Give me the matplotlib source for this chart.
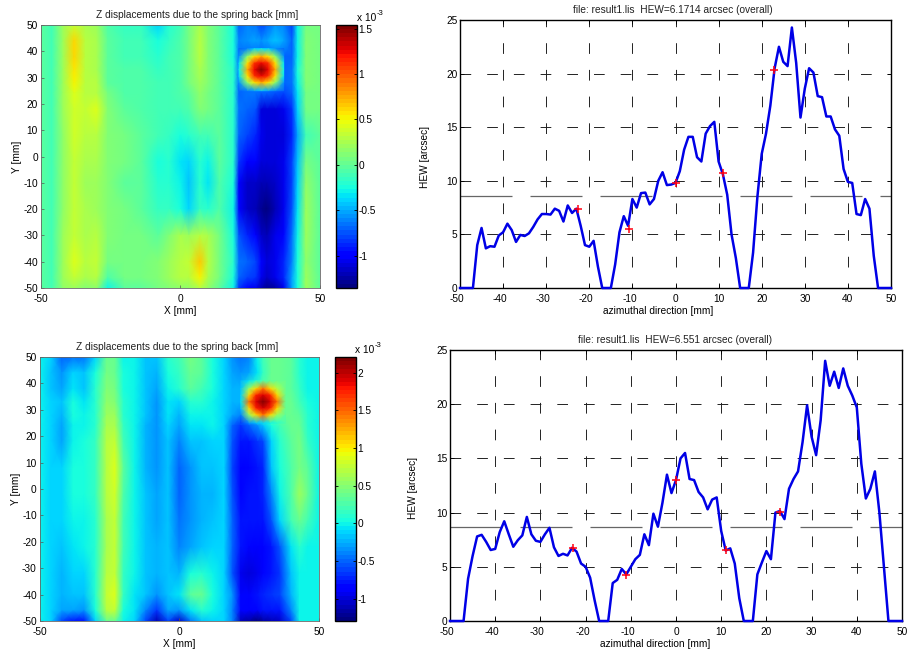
import numpy as np
import matplotlib
matplotlib.use("Agg")
import matplotlib.pyplot as plt
from matplotlib.transforms import ScaledTranslation

plt.rcParams["font.family"] = ["Liberation Sans", "DejaVu Sans"]
plt.rcParams["lines.scale_dashes"] = False
plt.rcParams["axes.unicode_minus"] = False

W, H = 908, 651

# top heat map, values in units of 1e-3 mm
map1_x = [-50, -46, -42, -38, -34, -30, -26, -20, -14, -8, -4, 0, 3, 7, 10, 14, 19, 21, 24, 27, 29, 31, 34, 37, 40, 42, 45, 50]
map1_y = [50, 44, 38, 33, 28, 24, 18, 8, -2, -10, -20, -30, -40, -46, -50]
map1_z = [
    [0, -.1, .2, .35, .25, .2, -.05, -.15, -.15, -.4, -.2, -.1, .05, .25, .1, 0, -.25, -.7, -.6, -.65, -.8, -.7, -.55, -.6, -.8, -.3, .05, .05],
    [0, -.1, .2, .6, .3, .25, 0, -.1, -.1, -.25, -.15, -.05, .05, .3, .1, 0, -.25, -.6, -.55, -.5, -.55, -.5, -.45, -.5, -.7, -.3, .1, .05],
    [0, -.1, .2, .6, .3, .25, 0, -.1, -.1, -.2, -.1, -.05, .05, .3, .1, 0, -.25, -.65, -.7, -.7, -.7, -.7, -.7, -.7, -.7, -.3, .1, .05],
    [0, -.1, .2, .55, .3, .25, 0, -.05, -.05, -.15, -.1, -.05, .05, .25, .1, 0, -.2, -.6, -.7, -.7, -.7, -.7, -.7, -.7, -.65, -.25, .1, .05],
    [0, -.1, .2, .5, .3, .3, 0, -.05, -.05, -.1, -.1, -.05, .05, .2, .1, 0, -.2, -.65, -.7, -.7, -.7, -.7, -.7, -.7, -.65, -.3, .1, .05],
    [0, -.1, .2, .45, .3, .3, .05, -.05, -.05, -.1, -.1, -.05, 0, .15, .05, 0, -.2, -.7, -.65, -.65, -.7, -.7, -.75, -.8, -.7, -.35, .05, .05],
    [0, -.1, .2, .4, .35, .42, .1, 0, -.05, -.1, -.1, -.1, -.05, .1, .05, 0, -.2, -.65, -.7, -.75, -1.1, -1.1, -1.1, -1.05, -.85, -.4, .05, .05],
    [0, -.1, .15, .4, .3, .3, .1, .05, 0, -.1, -.15, -.25, -.2, -.1, -.1, 0, -.2, -.7, -.8, -.9, -1.05, -1.1, -1.1, -1.1, -.9, -.5, -.1, 0],
    [0, -.1, .15, .35, .25, .25, .1, .05, 0, -.25, -.2, -.35, -.4, -.2, -.3, 0, -.2, -.85, -1, -1, -1.1, -1.1, -1.1, -1.05, -.8, -.45, .05, 0],
    [0, -.1, .15, .35, .2, .2, .1, 0, 0, -.2, -.2, -.3, -.45, -.2, -.35, -.05, -.25, -1, -1.15, -1.15, -1.2, -1.2, -1.15, -1.05, -.8, -.4, .15, 0],
    [0, -.1, .15, .35, .25, .2, .1, .05, 0, -.15, -.15, -.25, -.4, -.15, -.2, -.05, -.3, -.95, -1.15, -1.2, -1.3, -1.35, -1.2, -1.05, -.75, -.35, .2, 0],
    [0, -.1, .2, .35, .25, .3, .1, .05, .05, 0, .1, .25, .2, .3, .25, .05, -.25, -.75, -.9, -1, -1.15, -1.2, -1.05, -.95, -.65, -.3, .2, 0],
    [0, -.1, .2, .45, .3, .35, .05, .05, .05, .1, .2, .3, .35, .65, .3, .05, -.2, -.65, -.7, -.8, -1, -1.1, -1.05, -.9, -.6, -.25, .15, 0],
    [0, -.1, .2, .35, .25, .3, -.05, .05, .05, .1, .2, .3, .3, .5, .25, .05, -.25, -.7, -.8, -.85, -1.05, -1.15, -1.05, -.9, -.5, -.25, .2, 0],
    [0, -.1, .15, .2, .1, .15, -.3, 0, 0, .05, .1, .15, .15, .3, .15, 0, -.3, -.85, -1, -1.05, -1.2, -1.3, -1.25, -1.05, -.5, -.25, .2, 0],
]
# finer patch read around the hot spot
spot1_x = [21, 24, 26.5, 29, 31.5, 34, 37]
spot1_y = [41, 38, 35.5, 33, 30.5, 28, 25]
spot1_z = [
    [-.7, -.6, -.4, -.35, -.4, -.55, -.7],
    [-.55, .15, .55, .75, .55, .15, -.55],
    [-.35, .55, 1.1, 1.25, 1.1, .55, -.35],
    [-.3, .75, 1.25, 1.55, 1.25, .75, -.3],
    [-.35, .55, 1.1, 1.25, 1.1, .55, -.35],
    [-.55, .15, .55, .75, .55, .15, -.55],
    [-.72, -.62, -.5, -.45, -.5, -.62, -.72],
]
map1_ticks = [-1, -0.5, 0, 0.5, 1, 1.5]
map1_lim = (-1.356, 1.54)

# bottom heat map, values in units of 1e-3 mm
map2_x = [-50, -46, -42, -38, -34, -30, -26, -23, -20, -16, -12, -8, -4, 0, 4, 8, 12, 16, 19, 22, 25, 28, 30, 33, 36, 40, 43, 46, 50]
map2_y = [50, 44, 38, 33, 28, 24, 18, 8, -2, -12, -22, -32, -40, -46, -50]
map2_z = [
    [0, -.1, -.5, -.45, -.45, -.1, .4, .35, 0, 0, -.15, -.2, .1, .2, .45, .3, .05, -.1, -.35, -.45, -.4, 0, .2, .4, .35, .3, .1, 0, 0],
    [0, -.15, -.35, -.1, -.2, .05, .45, .4, .05, 0, -.15, -.25, .05, .15, .4, .3, .05, -.1, -.3, -.35, -.3, -.05, .15, .35, .35, .3, .1, 0, 0],
    [0, -.15, -.3, -.05, -.2, .1, .5, .45, .05, 0, -.2, -.3, 0, .1, .3, .2, .05, -.1, -.25, -.25, .1, .2, .3, .35, .35, .3, .15, 0, 0],
    [0, -.1, -.15, .05, -.05, .1, .55, .5, .1, 0, -.2, -.35, -.05, -.1, .1, .1, 0, -.1, -.25, -.25, .1, .2, .3, .35, .35, .35, .2, .05, 0],
    [0, -.1, -.25, .05, 0, .1, .6, .6, .1, 0, -.2, -.35, -.05, -.25, 0, 0, 0, -.1, -.3, -.4, -.1, .1, .2, .3, .35, .35, .3, .1, 0],
    [0, -.1, -.3, 0, 0, .1, .65, .65, .15, 0, -.25, -.35, -.1, -.3, -.05, -.05, 0, -.1, -.5, -.65, -.5, -.35, -.2, .05, .2, .35, .4, .1, 0],
    [0, -.1, -.3, 0, .05, .15, .7, .75, .2, 0, -.25, -.35, -.15, -.4, -.2, -.15, -.1, -.1, -.55, -.8, -.75, -.65, -.6, -.1, .1, .3, .45, .15, 0],
    [0, -.1, -.1, .05, .05, .15, .7, .85, .3, 0, -.25, -.35, -.2, -.5, -.35, -.2, -.2, -.1, -.6, -.9, -.85, -.75, -.7, -.2, .05, .25, .45, .3, 0],
    [0, -.1, -.1, .05, .05, .15, .7, .8, .25, 0, -.2, -.3, -.2, -.5, -.35, -.25, -.25, -.1, -.55, -.85, -.8, -.75, -.7, -.4, 0, .25, .6, .35, 0],
    [0, -.1, -.1, 0, 0, .1, .65, .75, .2, 0, -.2, -.3, -.2, -.45, -.35, -.25, -.2, -.1, -.5, -.8, -.8, -.8, -.8, -.55, -.1, .2, .4, .2, 0],
    [0, -.1, -.15, -.05, 0, .1, .65, .75, .2, 0, -.2, -.25, -.15, -.4, -.3, -.15, -.1, -.1, -.5, -.8, -.85, -.9, -.9, -.8, -.55, -.05, .1, 0, 0],
    [0, -.1, -.25, -.1, -.1, .1, .7, .75, .15, 0, -.2, -.25, -.15, -.25, .05, .1, 0, -.1, -.55, -.95, -1, -.95, -.85, -.75, -.65, -.2, 0, 0, 0],
    [0, -.1, -.25, -.15, -.15, .1, .75, .85, .15, -.05, -.2, -.35, -.15, -.05, .3, .35, .05, -.1, -.35, -.85, -.85, -.75, -.7, -.65, -.6, -.25, 0, 0, 0],
    [0, -.1, -.3, -.3, -.35, .05, .7, .75, .05, -.05, -.4, -.65, -.3, -.35, -.05, .1, 0, -.1, -.4, -.85, -.9, -.85, -.8, -.75, -.75, -.4, 0, 0, 0],
    [0, -.1, -.6, -.8, -.75, -.1, .4, .35, 0, -.1, -.6, -1.1, -.6, -1.05, -.45, -.15, -.1, -.1, -.4, -1.1, -1.15, -1.25, -1.15, -1.1, -1.05, -.6, 0, 0, 0],
]
spot2_x = [22, 25, 27.5, 30, 32.5, 35, 38]
spot2_y = [41, 38, 35.5, 33, 30.5, 28, 25]
spot2_z = [
    [-.25, -.05, .1, .25, .3, .35, .35],
    [-.2, .6, 1.1, 1.45, 1.1, .7, .35],
    [-.1, 1.1, 1.75, 1.9, 1.75, 1.1, .35],
    [-.05, 1.45, 1.9, 2.2, 1.9, 1.45, .35],
    [-.15, 1.1, 1.75, 1.9, 1.75, 1.1, .35],
    [-.4, .6, 1.1, 1.45, 1.1, .6, .3],
    [-.65, -.35, -.2, -.1, 0, .1, .25],
]
map2_ticks = [-1, -0.5, 0, 0.5, 1, 1.5, 2]
map2_lim = (-1.297, 2.207)

# HEW curves, one value per mm
azimuth = list(range(-50, 51))
hew1 = [0, 0, 0, 0, 4.0, 5.6, 3.7, 3.9, 3.85, 4.9, 5.2, 6.0, 5.4, 4.3, 4.95, 4.85, 5.1, 5.7, 6.4, 6.9, 6.9, 6.85, 7.4, 7.2, 6.2, 7.7, 7.0, 7.4,
        5.8, 4.0, 3.85, 4.4, 2.0, 0, 0, 0, 2.2, 5.2, 6.7, 5.8, 8.3, 7.5, 8.85, 8.9, 7.8, 8.3, 10.0, 10.8, 9.6, 9.65, 9.8,
        10.9, 12.9, 14.1, 14.1, 12.2, 11.8, 14.4, 15.1, 15.5, 11.8, 10.6, 8.7, 5.0, 2.8, 0, 0, 0, 3.3, 8.5, 12.5, 14.4, 17.0, 20.5,
        22.5, 21.1, 20.7, 24.3, 21.0, 15.9, 18.6, 20.5, 20.1, 17.9, 17.8, 16.0, 16.0, 14.8, 14.2, 11.1, 9.9, 9.8, 6.9, 6.8, 8.3, 7.4, 3.0, 0, 0, 0, 0]
hew2 = [0, 0, 0, 0, 3.9, 6.0, 7.8, 7.95, 7.3, 6.55, 6.65, 8.2, 9.2, 8.0, 6.85, 7.45, 7.9, 9.6, 8.0, 7.4, 7.3, 8.0, 8.6, 6.8, 6.0, 6.2, 6.05, 6.75,
        6.4, 5.3, 5.0, 4.0, 1.9, 0, 0, 0, 3.5, 3.8, 4.8, 4.3, 5.0, 5.7, 6.1, 8.0, 7.0, 9.9, 8.7, 10.9, 13.5, 11.8, 13.0,
        15.0, 15.5, 13.1, 13.0, 11.9, 11.4, 10.3, 11.2, 11.4, 8.3, 6.5, 6.7, 5.3, 2.1, 0, 0, 0, 4.3, 5.4, 6.45, 5.7, 10.0, 10.15,
        9.4, 12.2, 13.1, 13.8, 16.5, 19.9, 17.0, 15.3, 18.5, 24.0, 21.7, 23.0, 21.5, 23.3, 21.7, 20.8, 19.7, 14.5, 11.3, 12.2, 13.8, 10.0, 5.0, 0, 0, 0, 0]
marks1_x = [-22.7, -10.9, 0, 11, 22.9]
marks1_y = [7.4, 5.55, 9.8, 10.7, 20.3]
marks2_x = [-22.7, -11, 0, 11, 23]
marks2_y = [6.75, 4.2, 13.0, 6.55, 10.1]
overall1 = 8.55
overall2 = 8.65
title1 = "file: result1.lis  HEW=6.1714 arcsec (overall)"
title2 = "file: result1.lis  HEW=6.551 arcsec (overall)"
map_title = "Z displacements due to the spring back [mm]"

map_ticks = [-50, 0, 50]
map_yticks = list(range(-50, 51, 10))
hew_xticks = list(range(-50, 51, 10))
hew_yticks = [0, 5, 10, 15, 20, 25]

PX = 72 / 100
FS = 7.3
fig = plt.figure(figsize=(W / 100, H / 100), dpi=100)


def box(l, t, r, b):
    return [l / W, 1 - b / H, (r - l) / W, (b - t) / H]


def heatmap(pos, cpos, x, y, z, spot, lim, cticks, note_xy, title_x):
    ax = fig.add_axes(box(*pos))
    cmap = plt.get_cmap("jet", 64)
    m = ax.pcolormesh(x, y, np.array(z), shading="gouraud", cmap=cmap, vmin=lim[0], vmax=lim[1])
    ax.pcolormesh(spot[0], spot[1], np.array(spot[2]), shading="gouraud", cmap=cmap, vmin=lim[0], vmax=lim[1])
    ax.set_xlim(-50, 50)
    ax.set_ylim(-50, 50)
    ax.set_xticks(map_ticks)
    ax.set_yticks(map_yticks)
    ax.tick_params(length=2, width=0.5, labelsize=FS, pad=2, direction="in", color="#555555")
    ax.tick_params(axis="x", pad=4)
    for s in ax.spines.values():
        s.set_linewidth(0.6)
        s.set_color("#666666")
    ax.set_title(map_title, fontsize=FS, pad=5, color="#222222", x=title_x)
    ax.set_xlabel("X [mm]", fontsize=FS, labelpad=2)
    ax.set_ylabel("Y [mm]", fontsize=FS, labelpad=1)
    cax = fig.add_axes(box(*cpos))
    cb = fig.colorbar(m, cax=cax)
    cb.set_ticks(cticks)
    cb.set_ticklabels([f"{t:g}" for t in cticks])
    cb.ax.tick_params(length=2, width=0.6, labelsize=FS, pad=1, direction="in", left=True, right=True)
    cb.outline.set_linewidth(1.0)
    fig.text(note_xy[0] / W, 1 - note_xy[1] / H, "x 10", fontsize=FS, ha="left", va="baseline")
    fig.text((note_xy[0] + 19.5) / W, 1 - (note_xy[1] - 6) / H, "-3", fontsize=5.5, ha="left", va="baseline")


def hew_panel(pos, y, mx, my, overall, title, label_x, title_x, xlabel_x):
    ax = fig.add_axes(box(*pos))
    ax.set_xlim(-50, 50)
    ax.set_ylim(0, 25)
    ax.set_xticks(hew_xticks)
    ax.set_yticks(hew_yticks)
    # dash phases differ: horizontal ones begin with a full dash at the left edge
    ax.xaxis.grid(True, color="#222222", linewidth=0.7, linestyle=(5.7 * PX, (10.7 * PX, 16 * PX)))
    ax.yaxis.grid(True, color="#222222", linewidth=0.7, linestyle=(0, (10.7 * PX, 16 * PX)))
    ax.set_axisbelow(True)
    ax.axhline(overall, color="#666666", linewidth=0.9, linestyle=(0, (52 * PX, 18 * PX)), zorder=1.5)
    ax.plot(azimuth, y, color="#0000e6", linewidth=1.8, clip_on=False, zorder=3)
    ax.plot(mx, my, "+", color="#ff0010", markersize=5.5, markeredgewidth=1.1, zorder=4)
    ax.tick_params(length=3, width=0.6, labelsize=FS, pad=2, direction="in", top=True, right=True)
    ax.tick_params(axis="x", pad=4)
    for s in ax.spines.values():
        s.set_linewidth(1.0)
    # the reference's negative labels sit a little left of their ticks
    shift = ScaledTranslation(-3 / 100, 0, fig.dpi_scale_trans)
    for v, lab in zip(hew_xticks, ax.get_xticklabels()):
        if v < 0:
            lab.set_transform(lab.get_transform() + shift)
    ax.set_title(title, fontsize=FS, pad=5, color="#222222", x=title_x)
    ax.set_xlabel("azimuthal direction [mm]", fontsize=FS, labelpad=2, x=xlabel_x)
    ax.set_ylabel("HEW [arcsec]", fontsize=FS)
    ax.yaxis.set_label_coords((label_x - pos[0]) / (pos[2] - pos[0]), 0.49)


heatmap((40.7, 25, 320, 288), (336, 25, 357, 288), map1_x, map1_y, map1_z, (spot1_x, spot1_y, spot1_z),
        map1_lim, map1_ticks, (357, 21), 0.56)
heatmap((39.5, 357, 319, 621), (335, 357, 356, 621), map2_x, map2_y, map2_z, (spot2_x, spot2_y, spot2_z),
        map2_lim, map2_ticks, (355, 353), 0.492)
hew_panel((460, 20, 891, 288), hew1, marks1_x, marks1_y, overall1, title1, 430, 0.494, 0.459)
hew_panel((450, 350, 902, 621), hew2, marks2_x, marks2_y, overall2, title2, 418, 0.498, 0.4546)

fig.savefig("out.png", dpi=100)
